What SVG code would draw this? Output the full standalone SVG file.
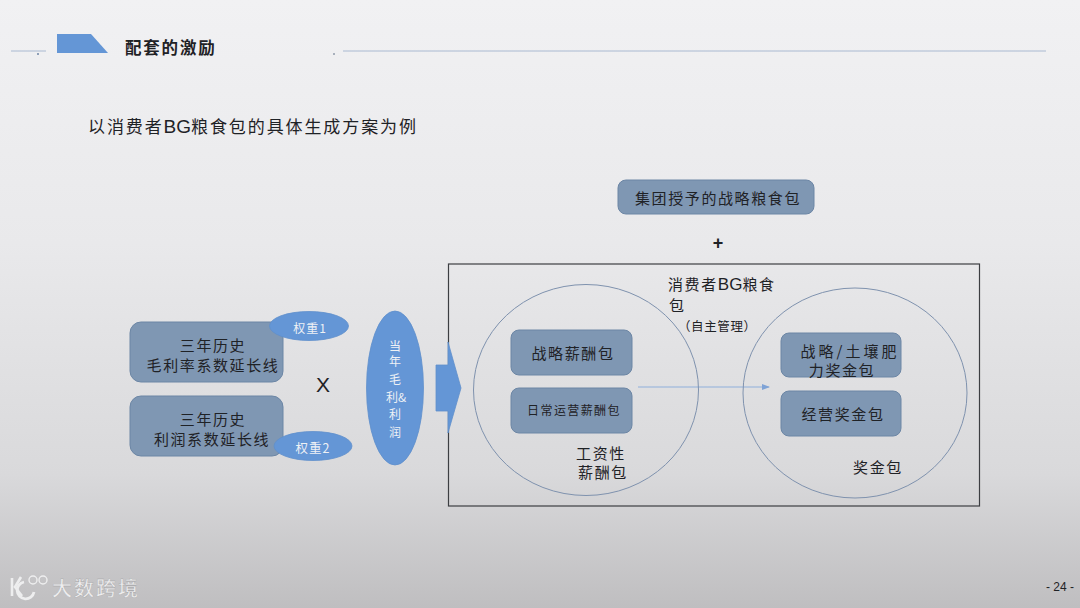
<svg xmlns="http://www.w3.org/2000/svg" width="1080" height="608" viewBox="0 0 1080 608">
<style>
text{font-family:"Noto Sans CJK SC","Liberation Sans",sans-serif;fill:#1f2226;text-anchor:middle}
.l{text-anchor:start}
.box{fill:#7f97b3;stroke:#6c86a5;stroke-width:1}
.blue{fill:#6496d6;stroke:#5f8fcb;stroke-width:.8}
.ring{fill:none;stroke:#7f92ae;stroke-width:1}
.t14{font-size:15px;letter-spacing:1.6px}
.lat{font-family:"Liberation Sans",sans-serif}
</style>
<defs>
<linearGradient id="bg" x1="0" y1="0" x2="0" y2="1">
<stop offset="0" stop-color="#f1f1f3"/><stop offset=".4" stop-color="#e9e9eb"/><stop offset=".78" stop-color="#d9d9db"/><stop offset="1" stop-color="#bfbec0"/>
</linearGradient>
<marker id="ah" markerWidth="8" markerHeight="6" refX="7" refY="3" orient="auto" markerUnits="userSpaceOnUse"><path d="M0 0L8 3L0 6Z" fill="#7fa3d6"/></marker>
</defs>
<rect width="1080" height="608" fill="url(#bg)"/>
<g id="header">
<path d="M11 51H46M343 51H1046" stroke="#a9bad2" stroke-width="1.2" fill="none"/>
<rect x="37" y="53" width="2" height="2" fill="#8fa0b8"/><rect x="333" y="53" width="2" height="2" fill="#a8b0bc"/>
<path d="M57 34H91L108 53H57Z" fill="#6496d6"/>
<text class="l" x="125" y="54" font-size="16.500" font-weight="700" letter-spacing="1.800">配套的激励</text>
<text class="l" x="88" y="133" font-size="17" letter-spacing="1.900">以消费者<tspan class="lat" font-size="19" letter-spacing="0">BG</tspan>粮食包的具体生成方案为例</text>
</g>
<g id="connectors">
<path d="M638 387H769" stroke="#8fb0dc" stroke-width="1.2" fill="none" marker-end="url(#ah)"/>
</g>
<g id="frame"><rect x="448.500" y="264" width="531" height="242" fill="none" stroke="#3c3e42" stroke-width="1.200"/></g>
<g id="bigArrow"><path d="M436 365H448V342L461 388L448 433V411H436Z" class="blue"/></g>
<g id="c1"><ellipse class="ring" cx="586" cy="390" rx="112.500" ry="105.500"/></g>
<g id="c2"><ellipse class="ring" cx="855" cy="393" rx="112" ry="105"/></g>
<g id="n1"><rect class="box" x="130" y="322" width="153" height="60" rx="11"/><text class="t14" x="213" y="351">三年历史</text><text class="t14" x="213" y="371">毛利率系数延长线</text></g>
<g id="n2"><rect class="box" x="130" y="396" width="153" height="60" rx="11"/><text class="t14" x="213" y="425">三年历史</text><text class="t14" x="212" y="445">利润系数延长线</text></g>
<g id="w1"><ellipse class="blue" cx="309" cy="326" rx="39.500" ry="14.500"/><text x="310" y="333" font-size="12" letter-spacing="1" style="fill:#eef1f5">权重1</text></g>
<g id="w2"><ellipse class="blue" cx="313" cy="446" rx="39" ry="14.500"/><text x="313" y="453" font-size="12.500" letter-spacing="1" style="fill:#eef1f5">权重2</text></g>
<g id="x"><text class="lat" x="323" y="392" font-size="21">X</text></g>
<g id="n3"><ellipse class="blue" cx="395" cy="388" rx="28.500" ry="77"/>
<g style="font-size:12px">
<text x="395" y="351" style="fill:#eef1f5">当</text><text x="395" y="366" style="fill:#eef1f5">年</text><text x="395" y="384" style="fill:#eef1f5">毛</text><text x="396" y="402" style="fill:#eef1f5">利&amp;</text><text x="395" y="419" style="fill:#eef1f5">利</text><text x="395" y="437" style="fill:#eef1f5">润</text></g></g>
<g id="n4"><rect class="box" x="618" y="180" width="196" height="34" rx="8"/><text class="t14" x="718" y="204">集团授予的战略粮食包</text></g>
<g id="plus"><text class="lat" x="718" y="249" font-size="18" font-weight="700">+</text></g>
<g id="n5"><text class="l t14" x="668" y="290">消费者<tspan class="lat" font-size="17" letter-spacing="0">BG</tspan>粮食</text><text class="l t14" x="669" y="311">包</text><text class="l" x="678" y="331" font-size="12.500" letter-spacing=".6">（自主管理）</text></g>
<g id="n6"><rect class="box" x="511" y="330" width="121" height="45" rx="8"/><text class="t14" x="573" y="359">战略薪酬包</text></g>
<g id="n7"><rect class="box" x="511" y="388" width="121" height="45" rx="8"/><text x="574" y="415" font-size="12" letter-spacing="1.400">日常运营薪酬包</text></g>
<g id="n8"><text class="t14" x="601" y="459">工资性</text><text class="t14" x="603" y="478">薪酬包</text></g>
<g id="n9"><rect class="box" x="781" y="333" width="120" height="44" rx="8"/><text class="t14" x="850" y="357" style="letter-spacing:3px">战略/土壤肥</text><text class="t14" x="842" y="376">力奖金包</text></g>
<g id="n10"><rect class="box" x="781" y="391" width="120" height="45" rx="8"/><text class="t14" x="843" y="420">经营奖金包</text></g>
<g id="n11"><text class="t14" x="878" y="473">奖金包</text></g>
<g id="footer">
<g fill="none" stroke="#eeeeef" stroke-width="2.600"><path d="M12 578V596M21 577L15 587L22 596"/><path d="M24 582A8.500 8.500 0 1 0 34 592" stroke-width="2.800"/><circle cx="33" cy="580" r="4" stroke-width="1.400"/><circle cx="43" cy="580" r="4" stroke-width="1.400"/></g>
<text x="96" y="596" font-size="20" font-weight="500" letter-spacing="2" style="fill:#eeeeef;stroke:#9c9c9e;stroke-width:.3">大数跨境</text>
<text class="lat" x="1060" y="591" font-size="12">- 24 -</text>
</g>
</svg>
